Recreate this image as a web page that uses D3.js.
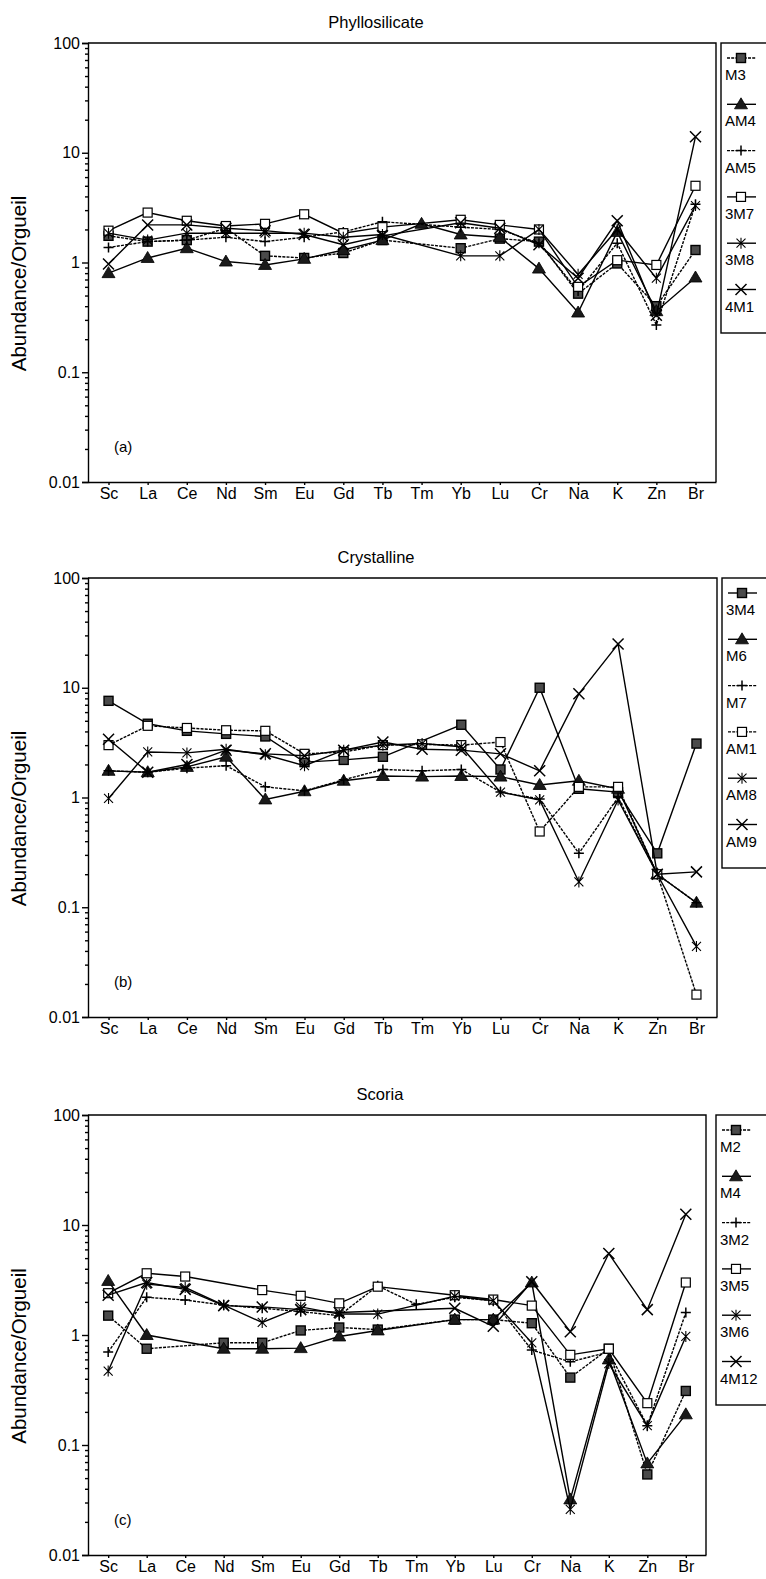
<!DOCTYPE html>
<html>
<head>
<meta charset="UTF-8">
<title>Abundance/Orgueil</title>
<script src="https://d3js.org/d3.v7.min.js"></script>
<style>
    body {
        margin: 0;
        background: #fff;
    }

    svg {
        display: block;
    }

    text {
        font-family: "Liberation Sans", Arial, sans-serif;
        fill: #000;
    }

    .axis path,
    .axis line {
        stroke: #000;
        stroke-width: 1.4;
    }

    .axis text {
        font-size: 16px;
    }

    .frame {
        fill: none;
        stroke: #000;
        stroke-width: 1.4;
    }

    .series {
        fill: none;
        stroke: #000;
        stroke-width: 1.4;
    }

    .dotted {
        stroke-dasharray: 3 1.2;
    }

    text.title {
        font-size: 16.5px;
    }

    text.ylabel {
        font-size: 20.5px;
    }

    text.tag,
    text.leg {
        font-size: 15px;
    }
</style>
</head>
<body>
<svg id="chart" width="766" height="1579"></svg>
<script>
    // categories (x axis) and y tick labels
    var elements = ["Sc", "La", "Ce", "Nd", "Sm", "Eu", "Gd", "Tb", "Tm", "Yb", "Lu", "Cr", "Na", "K", "Zn", "Br"];
    var yTickValues = [100, 10, 1, 0.1, 0.01];
    var yTickLabels = ["100", "10", "1", "0.1", "0.01"];

    // (a) Phyllosilicate
    var phylloNames = ["M3", "AM4", "AM5", "3M7", "3M8", "4M1"];
    var phylloM3 = [1.75, 1.55, 1.6, 2.05, 1.15, 1.1, 1.22, 1.6, null, 1.35, 1.65, 1.55, 0.52, 0.98, 0.40, 1.3];
    var phylloAM4 = [0.80, 1.1, 1.35, 1.02, 0.95, 1.08, 1.3, 1.6, 2.25, 1.8, 1.7, 0.88, 0.35, 1.9, 0.36, 0.73];
    var phylloAM5 = [1.37, 1.55, 1.6, 1.7, 1.55, 1.7, 1.9, 2.35, null, 2.1, 2.0, 1.5, 0.55, 1.5, 0.27, 3.4];
    var phyllo3M7 = [1.95, 2.85, 2.4, 2.15, 2.25, 2.75, 1.85, 2.1, null, 2.45, 2.2, 2.0, 0.6, 1.05, 0.95, 5.0];
    var phyllo3M8 = [1.85, 1.6, 1.85, 1.85, 1.85, 1.85, 1.7, 1.8, null, 1.15, 1.15, 2.0, 0.78, 2.0, 0.72, 3.3];
    var phyllo4M1 = [0.97, 2.2, 2.2, 2.05, 1.95, 1.8, 1.45, 1.75, null, 2.3, 2.05, 1.45, 0.72, 2.4, 0.33, 14];

    // (b) Crystalline
    var crystNames = ["3M4", "M6", "M7", "AM1", "AM8", "AM9"];
    var cryst3M4 = [7.6, 4.7, 4.05, 3.8, 3.6, 2.1, 2.2, 2.35, null, 4.6, 1.8, 10, 1.2, 1.12, 0.31, 3.1];
    var crystM6 = [1.75, 1.7, 1.9, 2.35, 0.96, 1.14, 1.42, 1.57, 1.55, 1.57, 1.55, 1.3, 1.42, 1.2, 0.2, 0.11];
    var crystM7 = [1.75, 1.7, 1.85, 1.95, 1.25, 1.15, 1.45, 1.8, 1.75, 1.8, 1.12, 0.97, 0.31, 1.0, 0.2, 0.11];
    var crystAM1 = [3.0, 4.5, 4.3, 4.1, 4.05, 2.5, 2.6, 3.0, 3.05, 3.0, 3.2, 0.49, 1.25, 1.25, 0.2, 0.016];
    var crystAM8 = [0.98, 2.6, 2.55, 2.75, 2.45, 1.95, 2.7, 3.0, 3.1, 2.9, 1.12, 0.95, 0.17, 0.95, 0.2, 0.044];
    var crystAM9 = [3.4, 1.7, 2.0, 2.7, 2.5, 2.4, 2.7, 3.2, 2.75, 2.7, 2.5, 1.75, 8.8, 25, 0.2, 0.21];

    // (c) Scoria
    var scoriaNames = ["M2", "M4", "3M2", "3M5", "3M6", "4M12"];
    var scoriaM2 = [1.5, 0.75, null, 0.85, 0.85, 1.1, 1.17, 1.12, null, 1.38, 1.38, 1.28, 0.41, 0.75, 0.054, 0.31];
    var scoriaM4 = [3.1, 1.0, null, 0.75, 0.75, 0.76, 0.97, 1.1, null, 1.38, 1.38, 3.0, 0.032, 0.6, 0.068, 0.19];
    var scoria3M2 = [0.7, 2.2, 2.08, 1.87, 1.75, 1.63, 1.5, 2.8, 1.9, 2.2, 2.05, 0.73, 0.57, 0.7, 0.15, 1.6];
    var scoria3M5 = [2.4, 3.64, 3.4, null, 2.56, 2.27, 1.94, 2.75, null, 2.3, 2.1, 1.85, 0.66, 0.75, 0.24, 3.0];
    var scoria3M6 = [0.47, 2.9, 2.7, 1.87, 1.3, 1.8, 1.55, 1.55, null, 2.25, 2.05, 0.85, 0.026, 0.55, 0.15, 0.97];
    var scoria4M12 = [2.3, 3.0, 2.6, 1.85, 1.8, 1.7, 1.6, null, null, 1.75, 1.2, 3.05, 1.07, 5.5, 1.7, 12.5];

    var markerTypes = ["fsquare", "ftriangle", "plus", "osquare", "asterisk", "xcross"];

    var panels = [{
        title: "Phyllosilicate", tag: "(a)", names: phylloNames,
        values: [phylloM3, phylloAM4, phylloAM5, phyllo3M7, phyllo3M8, phyllo4M1],
        dotted: [true, false, true, false, false, false],
        top: 43, bottom: 482, left: 88, right: 716, legX: 721, titleX: 376
    }, {
        title: "Crystalline", tag: "(b)", names: crystNames,
        values: [cryst3M4, crystM6, crystM7, crystAM1, crystAM8, crystAM9],
        dotted: [false, false, true, true, false, false],
        top: 578, bottom: 1017, left: 88, right: 717, legX: 722, titleX: 376
    }, {
        title: "Scoria", tag: "(c)", names: scoriaNames,
        values: [scoriaM2, scoriaM4, scoria3M2, scoria3M5, scoria3M6, scoria4M12],
        dotted: [true, false, true, false, false, false],
        top: 1115, bottom: 1555, left: 88, right: 706, legX: 716, titleX: 380
    }];

    // minor tick positions on the log axis
    var minorTicks = [];
    [0.01, 0.1, 1, 10].forEach(function(base) {
        for (var k = 2; k <= 9; k++) minorTicks.push(base * k);
    });

    function drawMarker(g, type) {
        if (type == "fsquare") {
            g.append("rect").attr("x", -4.5).attr("y", -4.5).attr("width", 9).attr("height", 9)
                .attr("fill", "#4a4a4a").attr("stroke", "#000").attr("stroke-width", 1.4);
        } else if (type == "osquare") {
            g.append("rect").attr("x", -4.5).attr("y", -4.5).attr("width", 9).attr("height", 9)
                .attr("fill", "#fff").attr("stroke", "#000").attr("stroke-width", 1.2);
        } else if (type == "ftriangle") {
            g.append("path").attr("d", "M0,-6.5L6.5,4.5L-6.5,4.5Z")
                .attr("fill", "#1a1a1a").attr("stroke", "#000").attr("stroke-width", 0.8);
        } else if (type == "plus") {
            g.append("path").attr("d", "M-5,0H5M0,-5V5")
                .attr("stroke", "#000").attr("stroke-width", 1.5);
        } else if (type == "asterisk") {
            g.append("path").attr("d", "M-4.5,-4.5L4.5,4.5M4.5,-4.5L-4.5,4.5M0,-5.5V5.5")
                .attr("stroke", "#000").attr("stroke-width", 1.1);
        } else if (type == "xcross") {
            g.append("path").attr("d", "M-5.5,-5.5L5.5,5.5M5.5,-5.5L-5.5,5.5")
                .attr("stroke", "#000").attr("stroke-width", 1.5);
        }
    }

    var svg = d3.select("#chart");

    panels.forEach(function(p) {
        var g = svg.append("g");
        var x = d3.scalePoint().domain(elements).range([p.left, p.right]).padding(0.524);
        var y = d3.scaleLog().domain([0.01, 100]).range([p.bottom, p.top]);

        // title
        g.append("text").attr("class", "title")
            .attr("x", p.titleX).attr("y", p.top - 15)
            .attr("text-anchor", "middle")
            .text(p.title);

        // frame
        g.append("path").attr("class", "frame")
            .attr("d", "M" + p.left + "," + p.top + "H" + p.right + "V" + p.bottom);

        // y axis
        g.append("g").attr("class", "axis")
            .attr("transform", "translate(" + p.left + ",0)")
            .call(d3.axisLeft(y).tickValues(yTickValues).tickSize(6).tickPadding(2)
                .tickFormat(function(d, i) { return yTickLabels[i]; }));
        g.append("g").attr("class", "axis")
            .attr("transform", "translate(" + p.left + ",0)")
            .call(d3.axisLeft(y).tickValues(minorTicks).tickSize(3).tickFormat(""))
            .select(".domain").remove();

        // x axis
        g.append("g").attr("class", "axis")
            .attr("transform", "translate(0," + p.bottom + ")")
            .call(d3.axisBottom(x).tickSize(3).tickPadding(3).tickSizeOuter(0));

        // y label
        var cy = (p.top + p.bottom) / 2 + 21;
        g.append("text").attr("class", "ylabel")
            .attr("transform", "translate(18," + cy + ") rotate(-90)")
            .attr("text-anchor", "middle")
            .attr("dominant-baseline", "central")
            .text("Abundance/Orgueil");

        // panel tag
        g.append("text").attr("class", "tag")
            .attr("x", p.left + 26).attr("y", p.bottom - 30)
            .text(p.tag);

        // series
        var line = d3.line()
            .x(function(d) { return x(d.el); })
            .y(function(d) { return y(d.v); });

        p.values.forEach(function(vals, si) {
            var pts = vals.map(function(v, i) { return { el: elements[i], v: v }; })
                .filter(function(d) { return d.v != null; });
            g.append("path")
                .attr("class", "series" + (p.dotted[si] ? " dotted" : ""))
                .attr("d", line(pts));
            pts.forEach(function(d) {
                var m = g.append("g").attr("transform", "translate(" + x(d.el) + "," + y(d.v) + ")");
                drawMarker(m, markerTypes[si]);
            });
        });

        // legend
        var leg = g.append("g");
        leg.append("rect").attr("class", "frame")
            .attr("x", p.legX).attr("y", p.top)
            .attr("width", 90).attr("height", 290);
        p.names.forEach(function(name, i) {
            var ly = p.top + 15 + i * 46.3;
            leg.append("path")
                .attr("class", "series" + (p.dotted[i] ? " dotted" : ""))
                .attr("d", "M" + (p.legX + 6) + "," + ly + "H" + (p.legX + 35));
            var m = leg.append("g").attr("transform", "translate(" + (p.legX + 20) + "," + ly + ")");
            drawMarker(m, markerTypes[i]);
            leg.append("text").attr("class", "leg")
                .attr("x", p.legX + 4).attr("y", ly + 22)
                .text(name);
        });
    });
</script>
</body>
</html>
